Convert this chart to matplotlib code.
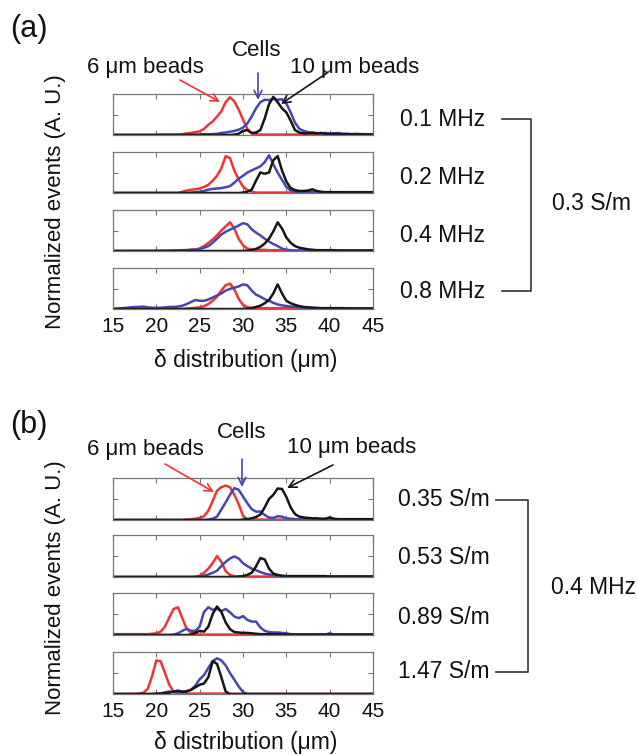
import numpy as np
import matplotlib
matplotlib.use("Agg")
import matplotlib.pyplot as plt

plt.rcParams['font.family'] = ['Liberation Sans', 'DejaVu Sans']

# ---------------- data ----------------
# bin centres of the delta distribution (um), 0.5 um bins from 15 to 45
delta = np.arange(15, 45.5, 0.5)

tick_values = [15, 20, 25, 30, 35, 40, 45]
labels_a = ["0.1 MHz", "0.2 MHz", "0.4 MHz", "0.8 MHz"]
labels_b = ["0.35 S/m", "0.53 S/m", "0.89 S/m", "1.47 S/m"]
group_a = "0.3 S/m"
group_b = "0.4 MHz"
series_names = ["6 \u03bcm beads", "Cells", "10 \u03bcm beads"]

# ---- panel (a) ----
a1_red = [0,0,0,0,0,0,0,0,0,0,
          0,0.01,0.01,0.01,0.01,0.01,0.02,0.04,0.05,0.07,
          0.09,0.15,0.25,0.33,0.45,0.58,0.8,0.92,0.82,0.62,
          0.38,0.15,0.04,0.02,0.01,0.01,0.01,0.01,0.01,0.01,
          0.01,0.01,0.01,0.01,0.01,0.01,0.01,0.01,0.01,0.01,
          0.01,0.01,0.01,0.01,0.01,0.01,0.01,0.01,0.01,0.01,
          0.01]
a1_blue = [0,0,0,0,0,0,0,0,0,0,
           0,0,0,0,0,0,0.01,0.01,0.01,0.01,
           0.01,0.02,0.02,0.02,0.03,0.05,0.06,0.08,0.1,0.13,
           0.18,0.28,0.45,0.65,0.8,0.86,0.85,0.88,0.86,0.87,
           0.77,0.55,0.3,0.15,0.1,0.07,0.06,0.05,0.04,0.05,
           0.04,0.04,0.05,0.03,0.03,0.02,0.03,0.02,0.02,0.02,
           0.02]
a1_black = [0,0,0,0,0,0,0,0,0,0,
            0,0,0,0,0,0,0,0,0,0,
            0,0,0,0,0,0,0,0,0.01,0.03,
            0.1,0.12,0.05,0.06,0.12,0.4,0.75,0.93,0.8,0.65,
            0.55,0.35,0.12,0.06,0.04,0.04,0.05,0.04,0.05,0.03,
            0.02,0.03,0.02,0.02,0.02,0.02,0.01,0.02,0.01,0.01,
            0.01]

a2_red = [0,0,0,0,0,0,0,0,0,0,
          0,0,0,0,0,0,0.03,0.06,0.08,0.09,
          0.11,0.15,0.2,0.3,0.42,0.6,0.9,0.85,0.55,0.33,
          0.16,0.07,0.03,0.01,0.01,0.01,0.01,0.01,0.01,0.01,
          0.01,0.01,0.01,0.01,0.01,0.01,0.01,0.01,0.01,0.01,
          0.01,0.01,0.01,0.01,0.01,0.01,0.01,0.01,0.01,0.01,
          0.01]
a2_blue = [0,0,0,0,0,0,0,0,0,0,
           0,0,0,0,0,0,0,0,0.01,0.02,
           0.03,0.05,0.08,0.1,0.11,0.12,0.14,0.17,0.25,0.35,
           0.42,0.5,0.55,0.6,0.65,0.75,0.92,0.7,0.5,0.32,
           0.15,0.06,0.03,0.02,0.02,0.02,0.02,0.02,0.02,0.02,
           0.02,0.01,0.02,0.01,0.01,0.01,0.01,0.01,0.01,0.01,
           0.01]
a2_black = [0,0,0,0,0,0,0,0,0,0,
            0,0,0,0,0,0,0,0,0,0,
            0,0,0,0,0,0,0,0,0,0,
            0.01,0.03,0.08,0.3,0.5,0.47,0.5,0.8,0.9,0.55,
            0.28,0.12,0.07,0.05,0.05,0.06,0.09,0.05,0.03,0.02,
            0.02,0.02,0.02,0.02,0.02,0.02,0.02,0.02,0.02,0.02,
            0.02]

a3_red = [0,0,0,0,0,0,0,0,0,0,
          0.01,0.01,0.01,0.01,0.01,0.01,0.02,0.02,0.03,0.04,
          0.06,0.12,0.2,0.28,0.38,0.5,0.6,0.7,0.55,0.3,
          0.14,0.06,0.04,0.03,0.03,0.03,0.02,0.02,0.02,0.02,
          0.02,0.01,0.01,0.01,0.01,0.01,0.01,0.01,0.01,0.01,
          0.01,0.01,0.01,0.01,0.01,0.01,0.01,0.01,0.01,0.01,
          0.01]
a3_blue = [0,0,0,0,0,0,0,0,0,0,
           0,0,0,0,0.01,0.01,0.02,0.02,0.03,0.03,
           0.05,0.08,0.12,0.2,0.3,0.4,0.47,0.52,0.57,0.62,
           0.68,0.65,0.53,0.45,0.38,0.3,0.23,0.17,0.12,0.06,
           0.03,0.02,0.01,0.01,0.01,0.01,0.01,0.01,0.01,0.01,
           0.01,0.01,0.01,0.01,0.01,0.01,0.01,0.01,0.01,0.01,
           0.01]
a3_black = [0,0,0,0,0,0,0,0,0,0,
            0,0,0,0,0,0,0,0,0,0,
            0,0,0,0,0,0,0,0,0,0,
            0,0.01,0.02,0.05,0.1,0.18,0.3,0.48,0.7,0.55,
            0.33,0.2,0.12,0.08,0.06,0.04,0.03,0.02,0.02,0.02,
            0.02,0.02,0.01,0.01,0.01,0.01,0.01,0.01,0.01,0.01,
            0.01]

a4_red = [0,0,0,0,0,0,0,0,0,0,
          0,0,0,0,0,0,0,0.01,0.02,0.03,
          0.04,0.07,0.12,0.2,0.3,0.45,0.58,0.62,0.48,0.25,
          0.1,0.04,0.03,0.02,0.02,0.02,0.02,0.02,0.02,0.02,
          0.02,0.02,0.02,0.02,0.02,0.01,0.01,0.01,0.01,0.01,
          0.01,0.01,0.01,0.01,0.01,0.01,0.01,0.01,0.01,0.01,
          0.01]
a4_blue = [0.01,0.01,0.02,0.03,0.04,0.05,0.05,0.06,0.04,0.03,
           0.03,0.03,0.04,0.05,0.05,0.06,0.08,0.12,0.17,0.22,
           0.2,0.2,0.23,0.28,0.33,0.38,0.45,0.49,0.52,0.55,
           0.6,0.58,0.45,0.35,0.3,0.24,0.2,0.15,0.11,0.09,
           0.07,0.06,0.05,0.04,0.03,0.03,0.03,0.03,0.02,0.02,
           0.02,0.02,0.02,0.02,0.02,0.02,0.01,0.01,0.01,0.01,
           0.01]
a4_black = [0,0,0,0,0,0,0,0,0,0,
            0,0,0,0,0,0,0,0,0,0,
            0,0,0,0,0,0,0,0,0,0,
            0,0.01,0.02,0.05,0.08,0.14,0.22,0.38,0.6,0.38,
            0.2,0.14,0.1,0.07,0.05,0.04,0.03,0.02,0.02,0.02,
            0.02,0.02,0.02,0.02,0.01,0.01,0.01,0.01,0.01,0.01,
            0.01]

# ---- panel (b) ----
b1_red = [0,0,0,0,0,0,0,0,0,0,
          0,0,0,0,0,0,0,0.01,0.02,0.03,
          0.05,0.09,0.22,0.45,0.7,0.78,0.82,0.78,0.6,0.38,
          0.1,0.02,0.01,0.01,0.01,0.01,0.01,0.01,0.01,0.01,
          0.01,0.01,0.01,0.01,0.02,0.01,0.01,0.01,0.01,0.01,
          0.01,0.01,0.01,0.01,0.01,0.01,0.01,0.01,0.01,0.01,
          0.01]
b1_blue = [0,0,0,0,0,0,0,0,0,0,
           0,0,0,0,0,0,0,0,0,0,
           0,0,0.01,0.03,0.08,0.25,0.42,0.6,0.76,0.72,
           0.56,0.4,0.26,0.2,0.2,0.12,0.06,0.05,0.09,0.08,
           0.04,0.03,0.02,0.02,0.02,0.02,0.02,0.02,0.02,0.02,
           0.01,0.01,0.01,0.01,0.01,0.01,0.01,0.01,0.01,0.01,
           0.01]
b1_black = [0,0,0,0,0,0,0,0,0,0,
            0,0,0,0,0,0,0,0,0,0,
            0,0,0,0,0,0,0,0,0,0,
            0.01,0.02,0.04,0.07,0.13,0.3,0.5,0.6,0.75,0.74,
            0.55,0.3,0.14,0.08,0.06,0.05,0.04,0.04,0.03,0.03,
            0.06,0.03,0.02,0.02,0.02,0.02,0.02,0.02,0.02,0.02,
            0.02]

b2_red = [0,0,0,0,0,0,0,0,0,0,
          0,0,0,0,0,0,0,0,0,0.01,
          0.03,0.1,0.2,0.33,0.5,0.36,0.14,0.05,0.02,0.01,
          0.01,0.01,0.01,0.01,0.01,0.01,0.01,0.01,0.01,0.01,
          0.01,0.01,0.01,0.01,0.01,0.01,0.01,0.01,0.01,0.01,
          0.01,0.01,0.01,0.01,0.01,0.01,0.01,0.01,0.01,0.01,
          0.01]
b2_blue = [0,0,0,0,0,0,0,0,0,0,
           0,0,0,0,0,0,0,0,0,0,
           0.01,0.03,0.06,0.1,0.15,0.26,0.36,0.44,0.49,0.44,
           0.33,0.26,0.2,0.16,0.12,0.08,0.06,0.04,0.03,0.02,
           0.02,0.02,0.02,0.02,0.02,0.02,0.02,0.02,0.02,0.02,
           0.01,0.01,0.01,0.01,0.01,0.01,0.01,0.01,0.01,0.01,
           0.01]
b2_black = [0,0,0,0,0,0,0,0,0,0,
            0,0,0,0,0,0,0,0,0,0,
            0,0,0,0,0,0,0,0,0,0.01,
            0.02,0.05,0.1,0.25,0.45,0.42,0.2,0.08,0.05,0.03,
            0.02,0.02,0.02,0.02,0.02,0.02,0.02,0.02,0.02,0.02,
            0.01,0.01,0.01,0.01,0.01,0.01,0.01,0.01,0.01,0.01,
            0.01]

b3_red = [0.02,0.02,0.02,0.02,0.02,0.02,0.02,0.02,0.02,0.03,
          0.04,0.08,0.2,0.42,0.62,0.66,0.4,0.15,0.05,0.02,
          0.01,0.01,0.01,0.01,0.01,0.01,0.01,0.01,0.01,0.01,
          0.01,0.01,0.01,0.01,0.01,0.01,0.01,0.01,0.01,0.01,
          0.01,0.01,0.01,0.01,0.01,0.01,0.01,0.01,0.01,0.01,
          0.01,0.01,0.01,0.01,0.01,0.01,0.01,0.01,0.01,0.01,
          0.01]
b3_blue = [0,0,0,0,0,0,0,0,0,0,
           0,0,0,0,0.01,0.04,0.1,0.15,0.1,0.1,
           0.2,0.55,0.66,0.6,0.62,0.57,0.62,0.54,0.44,0.4,
           0.45,0.36,0.32,0.32,0.18,0.1,0.07,0.06,0.06,0.05,
           0.04,0.02,0.01,0.01,0.01,0.01,0.01,0.01,0.01,0.01,
           0.04,0.01,0.01,0.01,0.01,0.01,0.01,0.01,0.01,0.01,
           0.01]
b3_black = [0,0,0,0,0,0,0,0,0,0,
            0,0,0,0,0,0,0,0,0.01,0.05,
            0.1,0.08,0.2,0.5,0.68,0.55,0.3,0.14,0.07,0.06,
            0.05,0.05,0.04,0.03,0.02,0.02,0.02,0.02,0.02,0.01,
            0.01,0.01,0.01,0.01,0.01,0.01,0.01,0.01,0.01,0.01,
            0.01,0.01,0.01,0.01,0.01,0.01,0.01,0.01,0.01,0.01,
            0.01]

b4_red = [0,0,0,0,0,0,0.01,0.03,0.12,0.42,
          0.8,0.78,0.5,0.22,0.05,0.02,0.01,0.01,0.01,0.01,
          0.01,0.01,0.01,0.01,0.01,0.01,0.01,0,0,0,
          0,0,0,0,0,0,0,0,0,0,
          0,0,0,0,0,0,0,0,0,0,
          0,0,0,0,0,0,0,0,0,0,
          0]
b4_blue = [0,0,0,0,0,0,0,0,0,0,
           0,0.01,0.04,0.06,0.04,0.05,0.06,0.07,0.1,0.2,
           0.35,0.45,0.62,0.78,0.85,0.8,0.68,0.5,0.34,0.18,
           0.05,0,0,0,0,0,0,0,0,0,
           0,0,0,0,0,0,0,0,0,0,
           0,0,0,0,0,0,0,0,0,0,
           0]
b4_black = [0,0,0,0,0,0,0,0,0,0,
            0.01,0.01,0.02,0.03,0.06,0.08,0.05,0.06,0.1,0.16,
            0.22,0.25,0.4,0.78,0.72,0.4,0.06,0,0,0,
            0,0,0,0,0,0,0,0,0,0,
            0,0,0,0,0,0,0,0,0,0,
            0,0,0,0,0,0,0,0,0,0,
            0]

panel_a = [(a1_red, a1_blue, a1_black), (a2_red, a2_blue, a2_black),
           (a3_red, a3_blue, a3_black), (a4_red, a4_blue, a4_black)]
panel_b = [(b1_red, b1_blue, b1_black), (b2_red, b2_blue, b2_black),
           (b3_red, b3_blue, b3_black), (b4_red, b4_blue, b4_black)]

# ---------------- styling ----------------
RED = '#f03434'
BLUE = '#4646b0'
BLACK = '#151515'
FRAME = '#777777'
TXT = '#111111'
W, H = 638, 755

fig = plt.figure(figsize=(W / 100, H / 100), dpi=100)


def add_ax(left, top, width, height):
    return fig.add_axes([left / W, 1 - (top + height) / H, width / W, height / H])


def draw_panel(series, tops, height):
    axes = []
    for k, (r, b, k_) in enumerate(series):
        ax = add_ax(113, tops[k], 260, height)
        for vals, col in ((r, RED), (b, BLUE), (k_, BLACK)):
            ax.plot(delta, vals, color=col, lw=1.8, solid_joinstyle='round')
        ax.set_xlim(15, 45)
        ax.set_ylim(0, 1)
        ax.set_xticks(tick_values)
        ax.set_yticks([0.5])
        ax.tick_params(direction='in', length=3.5, width=0.8, color=FRAME,
                       top=True, right=True, labelleft=False,
                       labelbottom=(k == len(series) - 1), labelsize=15,
                       labelcolor=TXT, pad=6)
        for s in ax.spines.values():
            s.set_color(FRAME)
            s.set_linewidth(0.9)
        axes.append(ax)
    return axes


draw_panel(panel_a, [94, 152, 210, 268], 41)
draw_panel(panel_b, [478, 535, 593, 652], 42)

# ---------------- overlay for text, brackets and arrows ----------------
ov = fig.add_axes([0, 0, 1, 1])
ov.set_xlim(0, W)
ov.set_ylim(H, 0)
ov.axis('off')

ov.text(10, 29, "(a)", fontsize=22, ha='left', va='center', color=TXT)
ov.text(10, 425, "(b)", fontsize=22, ha='left', va='center', color=TXT)

ylab = "Normalized events (A. U.)"
ov.text(56, 202, ylab, rotation=90, fontsize=16, ha='center', va='center', color=TXT)
ov.text(56, 588, ylab, rotation=90, fontsize=16, ha='center', va='center', color=TXT)

xlab = "\u03b4 distribution (\u03bcm)"
ov.text(246, 360, xlab, fontsize=16.5, ha='center', va='center', color=TXT)
ov.text(246, 743, xlab, fontsize=16.5, ha='center', va='center', color=TXT)

# condition labels
for lab, y in zip(labels_a, [119, 177, 235, 292]):
    ov.text(400, y, lab, fontsize=16.5, ha='left', va='center', color=TXT)
for lab, y in zip(labels_b, [500, 558, 617, 672]):
    ov.text(398, y, lab, fontsize=16.5, ha='left', va='center', color=TXT)
ov.text(552, 204, group_a, fontsize=16.5, ha='left', va='center', color=TXT)
ov.text(551, 588, group_b, fontsize=16.5, ha='left', va='center', color=TXT)

ov.plot([502, 531, 531, 502], [119, 119, 291, 291], color='#333333', lw=1.2)
ov.plot([496, 528, 528, 496], [500, 500, 672, 672], color='#333333', lw=1.2)

# series annotations
def annotate(name, txt_xy, start, end, col):
    ov.text(txt_xy[0], txt_xy[1], name, fontsize=16, ha='center', va='center', color=TXT)
    ov.annotate('', xy=end, xytext=start,
                arrowprops=dict(arrowstyle='->', color=col, lw=1.2,
                                mutation_scale=14, shrinkA=0, shrinkB=0))

annotate(series_names[0], (145, 68), (180, 80), (220, 102), RED)
annotate(series_names[1], (257, 51), (258, 73), (258, 100), BLUE)
annotate(series_names[2], (355, 67), (327, 73), (281, 104), BLACK)

annotate(series_names[0], (145, 450), (165, 464), (214, 492), RED)
annotate(series_names[1], (242, 433), (242, 459), (242, 487), BLUE)
annotate(series_names[2], (352, 448), (333, 465), (287, 488), BLACK)

fig.savefig("out.png", dpi=100)
